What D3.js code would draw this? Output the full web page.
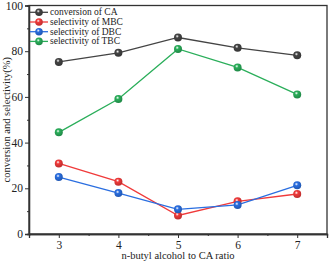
<!DOCTYPE html>
<html><head><meta charset="utf-8">
<script src="https://cdn.jsdelivr.net/npm/d3@7"></script>
<style>body{margin:0;background:#fff}svg{display:block;font-family:"Liberation Serif","Times New Roman",serif}</style>
</head><body><svg id="c" width="330" height="264"></svg>
<script>
const ratios = [3, 4, 5, 6, 7];
const conversionCA = [75.3, 79.3, 86.0, 81.5, 78.2];
const selectivityMBC = [30.9, 22.9, 8.1, 14.3, 17.5];
const selectivityDBC = [24.9, 17.9, 10.8, 12.7, 21.3];
const selectivityTBC = [44.5, 59.1, 81.0, 72.9, 61.1];
const seriesNames = ["conversion of CA", "selectivity of MBC", "selectivity of DBC", "selectivity of TBC"];
const seriesColors = ["#444444", "#f03a3a", "#2a6ee0", "#2aae5a"];
const yTicks = [0, 20, 40, 60, 80, 100];
const xLabel = "n-butyl alcohol to CA ratio";
const yLabel = "conversion and selectivity(%)";

const series = [conversionCA, selectivityMBC, selectivityDBC, selectivityTBC];
const svg = d3.select("#c");
const m = {l: 29, r: 3, t: 5.5, b: 30};
const W = 330, H = 264;
const x = d3.scaleLinear().domain([2.5, 7.5]).range([m.l, W - m.r]);
const y = d3.scaleLinear().domain([0, 100]).range([H - m.b, m.t]);

const defs = svg.append("defs");
seriesColors.forEach((c, i) => {
  const g = defs.append("radialGradient").attr("id", "g" + i).attr("cx", "40%").attr("cy", "35%").attr("r", "60%");
  g.append("stop").attr("offset", "0%").attr("stop-color", "#fff");
  g.append("stop").attr("offset", "35%").attr("stop-color", c);
  g.append("stop").attr("offset", "100%").attr("stop-color", d3.color(c).darker(0.6));
});

svg.append("rect").attr("x", x.range()[0]).attr("y", y.range()[1])
  .attr("width", x.range()[1] - x.range()[0]).attr("height", y.range()[0] - y.range()[1])
  .attr("fill", "none").attr("stroke", "#333").attr("stroke-width", 1.3);

svg.append("g").attr("transform", `translate(0,${y(0)})`)
  .call(d3.axisBottom(x).tickValues(ratios).tickFormat(d3.format("d")).tickSize(4).tickPadding(3));
svg.append("g").attr("transform", `translate(0,${y(0)})`)
  .call(d3.axisBottom(x).tickValues([3.5, 4.5, 5.5, 6.5, 7.5]).tickFormat("").tickSize(2));
svg.append("g").attr("transform", `translate(${x(2.5)},0)`)
  .call(d3.axisLeft(y).tickValues(yTicks).tickSize(4).tickPadding(2));
svg.append("g").attr("transform", `translate(${x(2.5)},0)`)
  .call(d3.axisLeft(y).tickValues([10, 30, 50, 70, 90]).tickFormat("").tickSize(2));
svg.selectAll(".domain").attr("stroke", "#333").attr("stroke-width", 1.3);
svg.selectAll(".tick line").attr("stroke", "#333");
svg.selectAll(".tick text").attr("font-family", "Liberation Serif").attr("font-size", 11.5).attr("fill", "#222");

svg.append("text").attr("x", (x(2.5) + x(7.5)) / 2).attr("y", 259).attr("text-anchor", "middle")
  .attr("font-size", 10.5).attr("fill", "#222").text(xLabel);
svg.append("text").attr("transform", `translate(10,${(y(0) + y(100)) / 2}) rotate(-90)`).attr("text-anchor", "middle")
  .attr("font-size", 10.5).attr("fill", "#222").text(yLabel);

const line = d3.line().x((d, i) => x(ratios[i])).y(d => y(d));
series.forEach((s, k) => {
  svg.append("path").attr("d", line(s)).attr("fill", "none").attr("stroke", seriesColors[k]).attr("stroke-width", 1.3);
});
series.forEach((s, k) => {
  svg.selectAll(null).data(s).enter().append("circle")
    .attr("cx", (d, i) => x(ratios[i])).attr("cy", d => y(d)).attr("r", 4)
    .attr("fill", `url(#g${k})`);
});

const lg = svg.append("g");
seriesNames.forEach((n, k) => {
  const yy = 12.3 + k * 9.7;
  lg.append("line").attr("x1", 30).attr("x2", 48).attr("y1", yy).attr("y2", yy).attr("stroke", seriesColors[k]).attr("stroke-width", 1.3);
  lg.append("circle").attr("cx", 39).attr("cy", yy).attr("r", 3.8).attr("fill", `url(#g${k})`);
  lg.append("text").attr("x", 50).attr("y", yy + 3).attr("font-size", 9.5).attr("fill", "#222").text(n);
});
</script></body></html>
